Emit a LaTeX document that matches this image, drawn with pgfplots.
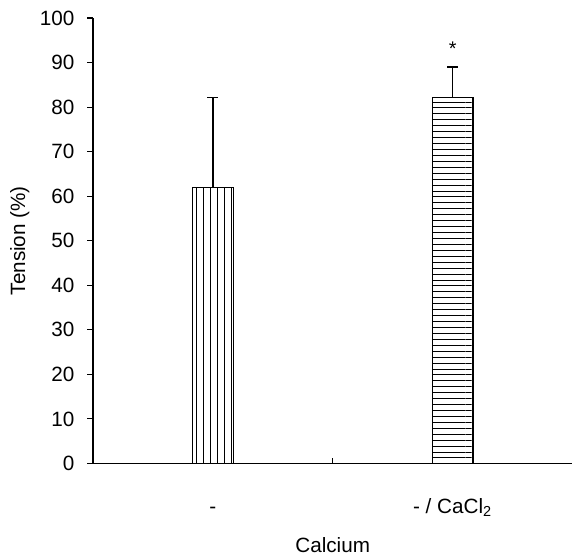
\documentclass[border=0pt]{standalone}
\usepackage{fontspec}
\setmainfont{Liberation Sans}
\usepackage{pgfplots}
\pgfplotsset{compat=1.18}
\usetikzlibrary{patterns.meta}
\begin{document}
\begin{tikzpicture}
\begin{axis}[
  scale only axis,
  width=266.7pt, height=247.8pt,
  xmin=-0.5, xmax=1.5, ymin=0, ymax=100,
  axis x line*=bottom, axis y line*=left,
  axis line style={-, black, line width=0.6pt},
  ytick={0,10,...,100},
  ytick style={black, line width=0.6pt},
  tick align=outside,
  major tick length=3.3pt,
  xtick={0,1},
  xticklabels={-, - / CaCl\textsubscript{2}},
  x tick style={draw=none},
  extra x ticks={0.5},
  extra x tick labels={},
  extra x tick style={tick align=inside, major tick length=3pt, x tick style={draw=black, line width=0.6pt}},
  xticklabel style={anchor=base, yshift=-24.5pt},
  yticklabel style={xshift=-3.5pt},
  /pgf/number format/assume math mode=true,
  ylabel={Tension (\%)},
  ylabel style={at={(axis description cs:-0.153,0.5)}, anchor=center, rotate=0},
  xlabel={Calcium},
  xlabel style={at={(axis description cs:0.5,0)}, anchor=base, yshift=-49.6pt},
  font=\fontsize{11.5}{13}\selectfont,
  clip=false,
]
\addplot[ybar, bar width=0.17, bar shift=0pt, draw=black, line width=0.6pt,
  pattern={Lines[angle=90, distance=3.9pt, line width=0.5pt]},
  error bars/.cd, y dir=plus, y explicit,
  error bar style={black, line width=0.7pt},
  error mark options={rotate=90, mark size=3pt, black, line width=0.8pt}]
  coordinates {(0,61.9) +- (0,20.2)};
\addplot[ybar, bar width=0.17, bar shift=0pt, draw=black, line width=0.6pt,
  pattern={Lines[angle=0, distance=3.3pt, line width=0.5pt]},
  error bars/.cd, y dir=plus, y explicit,
  error bar style={black, line width=0.7pt},
  error mark options={rotate=90, mark size=3pt, black, line width=0.8pt}]
  coordinates {(1,82.1) +- (0,6.9)};
\node[font=\fontsize{11}{12}\selectfont] at (axis cs:1,93) {*};
\path (axis description cs:-0.194,0) ++(0,-51pt);
\path (axis description cs:0,1) ++(0,10pt);
\end{axis}
\end{tikzpicture}
\end{document}
